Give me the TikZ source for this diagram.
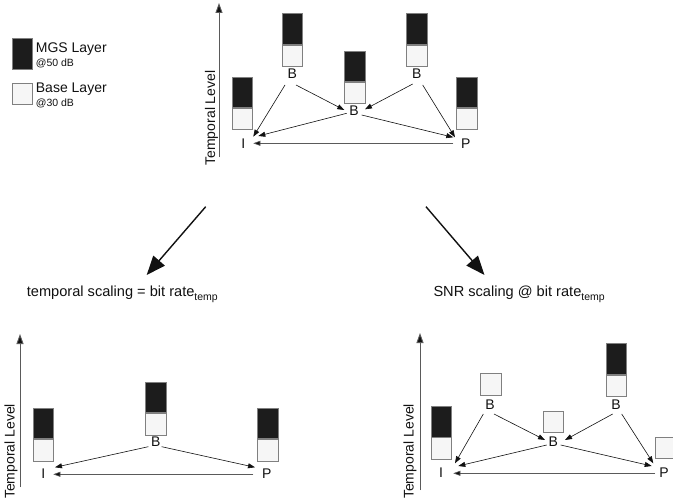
\documentclass[tikz,border=0pt]{standalone}
\usepackage{fontspec}
\setmainfont{Liberation Sans}
\usetikzlibrary{arrows.meta}
\definecolor{dkfill}{HTML}{1C1C1C}
\definecolor{ltfill}{HTML}{F6F6F6}
\definecolor{boxgray}{HTML}{808080}
\definecolor{axisgray}{HTML}{5A5A5A}
\definecolor{inkblack}{HTML}{111111}
\tikzset{
  dk/.style={draw=boxgray, fill=dkfill, minimum width=20.5pt, minimum height=30.5pt, inner sep=0pt, line width=0.8pt},
  lt/.style={draw=boxgray, fill=ltfill, minimum width=20.5pt, minimum height=21.5pt, inner sep=0pt, line width=0.8pt},
  lbl/.style={font=\fontsize{14}{16}\selectfont, text=inkblack, inner sep=0pt},
  small/.style={font=\fontsize{10.5}{12}\selectfont, text=inkblack, inner sep=0pt, anchor=base west},
  big/.style={font=\fontsize{14}{16}\selectfont, text=inkblack, inner sep=0pt, anchor=base west},
  captiontext/.style={font=\fontsize{14.6}{17}\selectfont, text=inkblack, inner sep=0pt, anchor=base west},
  arr/.style={draw=inkblack, line width=0.6pt, -{Triangle[length=7pt,width=5pt]}},
  grayarr/.style={draw=axisgray, line width=0.6pt, -{Triangle[length=7pt,width=5pt,fill=inkblack]}},
  axisarr/.style={draw=axisgray, line width=0.9pt, -{Triangle[length=10pt,width=7pt,fill=inkblack]}},
  bigarr/.style={draw=inkblack, line width=1.4pt, -{Triangle[length=19pt,width=15pt]}},
}
% two-layer frame: dark MGS part on top of the light base part
\newcommand\layerpair[3]{%
  \node[dk, anchor=north] (#1d) at (#2,#3) {};
  \node[lt, anchor=north] (#1b) at (#1d.south) {};}
\newcommand\tempsub{\raisebox{-4.5pt}{\fontsize{10.5}{12}\selectfont temp}}
\begin{document}
\begin{tikzpicture}[x=1pt, y=-1pt]
\useasboundingbox (0,0) rectangle (673,503);

% legend
\node[dk, anchor=north west, minimum height=30.7pt] (legd) at (11.7,38.3) {};
\node[lt, anchor=north west, minimum height=20.7pt] (legb) at (11.7,83.3) {};
\node[big] (legdt) at (35.7,52.3) {MGS Layer};
\node[small] (legds) at (35.7,66.7) {@50 dB};
\node[big] (legbt) at (35.7,92.3) {Base Layer};
\node[small] (legbs) at (35.7,106.7) {@30 dB};

% ---------------- full hierarchy ----------------
\coordinate (ax1b) at (219,157);
\coordinate (ax1t) at (219,3);
\draw[axisarr] (ax1b) -- (ax1t);
\node[lbl, rotate=90] (tlev1) at (211.5,118) {Temporal Level};

\layerpair{tBL}{292.3}{13.3}
\layerpair{tBC}{354.7}{50.7}
\layerpair{tBR}{417}{13.3}
\layerpair{tI}{242.2}{76.7}
\layerpair{tP}{467}{76.7}

\node[lbl] (aBL) at (292.3,74) {B};
\node[lbl] (aBC) at (354,111) {B};
\node[lbl] (aBR) at (416.7,74) {B};
\node[lbl] (aI) at (243.3,143.3) {I};
\node[lbl] (aP) at (465.7,143.3) {P};

\draw[arr] ([shift={(-7.3,11)}]aBL.center) -- ([shift={(10,-6.6)}]aI.center);
\draw[arr] ([shift={(3.7,11)}]aBL.center) -- ([shift={(-9.7,-1)}]aBC.center);
\draw[arr] ([shift={(-4,10)}]aBR.center) -- ([shift={(11,-1.7)}]aBC.center);
\draw[arr] ([shift={(6,11)}]aBR.center) -- ([shift={(-10.7,-6)}]aP.center);
\draw[arr] ([shift={(-7.3,2.3)}]aBC.center) -- ([shift={(15,-7.3)}]aI.center);
\draw[arr] ([shift={(7.7,4)}]aBC.center) -- ([shift={(-12.4,-6)}]aP.center);
\draw[grayarr] ([shift={(-12.4,0)}]aP.center) -- ([shift={(10,0)}]aI.center);

% ---------------- the two ways to scale ----------------
\coordinate (splitL) at (205.7,206.7);
\coordinate (tipL) at (146.7,275);
\coordinate (splitR) at (426,206.7);
\coordinate (tipR) at (484.5,275);
\draw[bigarr] (splitL) -- (tipL);
\draw[bigarr] (splitR) -- (tipR);

\node[captiontext] (capL) at (26.7,296) {temporal scaling = bit rate\tempsub};
\node[captiontext] (capR) at (433.3,296) {SNR scaling @ bit rate\tempsub};

% ---------------- temporal scaling ----------------
\coordinate (ax2b) at (20,487);
\coordinate (ax2t) at (20,334);
\draw[axisarr] (ax2b) -- (ax2t);
\node[lbl, rotate=90] (tlev2) at (11,451.5) {Temporal Level};

\layerpair{lI}{43.3}{407.7}
\layerpair{lB}{156}{381.7}
\layerpair{lP}{267.7}{407.7}

\node[lbl] (bB) at (155.7,441.7) {B};
\node[lbl] (bI) at (43.3,473.3) {I};
\node[lbl] (bP) at (266.7,473.3) {P};

\draw[arr] ([shift={(-7.4,5)}]bB.center) -- ([shift={(11.7,-6)}]bI.center);
\draw[arr] ([shift={(6,5)}]bB.center) -- ([shift={(-11.7,-6)}]bP.center);
\draw[grayarr] ([shift={(-13.4,1)}]bP.center) -- ([shift={(10,1)}]bI.center);

% ---------------- SNR scaling ----------------
\coordinate (ax3b) at (420,490);
\coordinate (ax3t) at (420,333);
\draw[axisarr] (ax3b) -- (ax3t);
\node[lbl, rotate=90] (tlev3) at (410,451.5) {Temporal Level};

\layerpair{rI}{441.2}{406}
\layerpair{rBR}{616.3}{343.3}
\node[lt, anchor=north] (rBLb) at (490.8,373.3) {};
\node[lt, anchor=north] (rBCb) at (553.3,410.7) {};
\begin{scope}
  \clip (0,0) rectangle (673,503);
  \node[lt, anchor=north west] (rPb) at (655,436.7) {};
\end{scope}

\node[lbl] (cBL) at (490,404.3) {B};
\node[lbl] (cBC) at (553.3,441.7) {B};
\node[lbl] (cBR) at (616,404.3) {B};
\node[lbl] (cI) at (441,472.3) {I};
\node[lbl] (cP) at (664,472.3) {P};

\draw[arr] ([shift={(-6.7,9.7)}]cBL.center) -- ([shift={(14,-9)}]cI.center);
\draw[arr] ([shift={(4,9.7)}]cBL.center) -- ([shift={(-8.3,-1.7)}]cBC.center);
\draw[arr] ([shift={(-3.3,9.7)}]cBR.center) -- ([shift={(11.7,-1.7)}]cBC.center);
\draw[arr] ([shift={(5.7,9.7)}]cBR.center) -- ([shift={(-10.7,-9)}]cP.center);
\draw[arr] ([shift={(-6.6,3.3)}]cBC.center) -- ([shift={(17.3,-6.3)}]cI.center);
\draw[arr] ([shift={(7.4,3.3)}]cBC.center) -- ([shift={(-12.3,-6.3)}]cP.center);
\draw[grayarr] ([shift={(-9,1)}]cP.center) -- ([shift={(12.3,1)}]cI.center);
\end{tikzpicture}
\end{document}
